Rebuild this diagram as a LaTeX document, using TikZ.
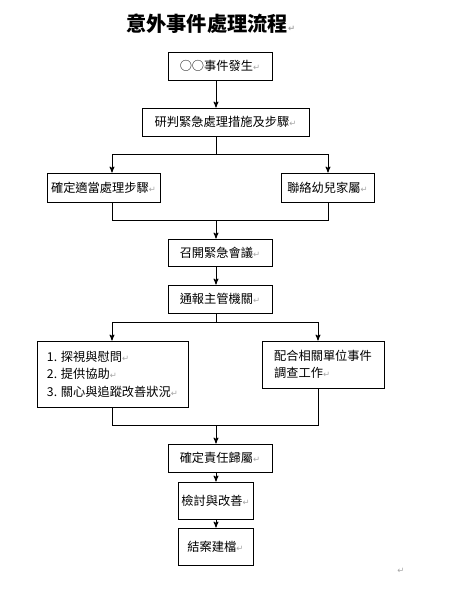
\documentclass[tikz,border=0pt]{standalone}
\usepackage{fontspec}
\setmainfont{Noto Sans CJK TC}
\newfontfamily\symfont{DejaVu Sans}
\usepackage{tikz}
\usetikzlibrary{arrows}

% paragraph mark as printed after each text
\newcommand{\pmark}{{\symfont\color{gray!70}\fontsize{6}{6}\selectfont ↵}}

\begin{document}
\begin{tikzpicture}[x=0.025cm, y=-0.025cm, >=stealth', line width=0.6pt,
    box/.style={draw, rectangle, inner sep=0pt, align=left,
                font=\fontsize{8.7}{12.4}\selectfont},
    headline/.style={font=\fontsize{14.4}{16}\selectfont\bfseries, anchor=west}]
    \useasboundingbox (0,0) rectangle (450,600);

    % Title
    \node [headline] (title) at (121,24) {意外事件處理流程\pmark};

    % Nodes {occur, judge, steps, family, etc}
    \node [box, minimum width=2.6cm,   minimum height=0.7cm]   (occur)       at (220,66)      {○○事件發生\pmark};
    \node [box, minimum width=4.175cm, minimum height=0.7cm]   (judge)       at (225.5,122)   {研判緊急處理措施及步驟\pmark};
    \node [box, minimum width=2.825cm, minimum height=0.725cm] (steps)       at (103.5,187.5) {確定適當處理步驟\pmark};
    \node [box, minimum width=2.325cm, minimum height=0.725cm] (family)      at (327.5,187.5) {聯絡幼兒家屬\pmark};
    \node [box, minimum width=2.6cm,   minimum height=0.675cm] (meeting)     at (220,252.5)   {召開緊急會議\pmark};
    \node [box, minimum width=2.6cm,   minimum height=0.7cm]   (report)      at (220,299)     {通報主管機關\pmark};
    \node [box, minimum width=3.775cm, minimum height=1.65cm]  (care)        at (112.5,374)   {1. 探視與慰問\pmark\\2. 提供協助\pmark\\3. 關心與追蹤改善狀況\pmark};
    \node [box, minimum width=3.05cm,  minimum height=1.175cm] (investigate) at (323,364.5)   {配合相關單位事件\\調查工作\pmark};
    \node [box, minimum width=2.6cm,   minimum height=0.7cm]   (duty)        at (220,458)     {確定責任歸屬\pmark};
    \node [box, minimum width=1.875cm, minimum height=0.925cm] (review)      at (215.5,500.5) {檢討與改善\pmark};
    \node [box, minimum width=1.875cm, minimum height=0.925cm] (close)       at (215.5,546.5) {結案建檔\pmark};
    \node (endmark) at (401,571) {\pmark};

    % Helper coordinates for the trunk and the branches
    \coordinate (spine) at (216,0);
    \coordinate (colL)  at (112,0);
    \coordinate (colR)  at (328,0);
    \coordinate (colR2) at (318,0);
    \coordinate (fork1) at (216,154);
    \coordinate (join1) at (216,220);
    \coordinate (fork2) at (216,322);
    \coordinate (join2) at (216,425);

    % Paths
    \path [->] (occur.south -| spine) edge (judge.north -| spine);
    \draw      (judge.south -| spine) -- (fork1);
    \draw      (fork1 -| colL) -- (fork1 -| colR);
    \path [->] (fork1 -| colL) edge (steps.north -| colL);
    \path [->] (fork1 -| colR) edge (family.north -| colR);
    \draw      (steps.south -| colL) -- (join1 -| colL) -- (join1 -| colR) -- (family.south -| colR);
    \path [->] (join1) edge (meeting.north -| join1);
    \path [->] (meeting.south -| spine) edge (report.north -| spine);
    \draw      (report.south -| spine) -- (fork2);
    \draw      (fork2 -| colL) -- (fork2 -| colR2);
    \path [->] (fork2 -| colL) edge (care.north -| colL);
    \path [->] (fork2 -| colR2) edge (investigate.north -| colR2);
    \draw      (care.south -| colL) -- (join2 -| colL) -- (join2 -| colR2) -- (investigate.south -| colR2);
    \path [->] (join2) edge (duty.north -| join2);
    \path [->] (duty.south -| spine) edge (review.north -| spine);
    \path [->] (review.south -| spine) edge (close.north -| spine);

\end{tikzpicture}
\end{document}
